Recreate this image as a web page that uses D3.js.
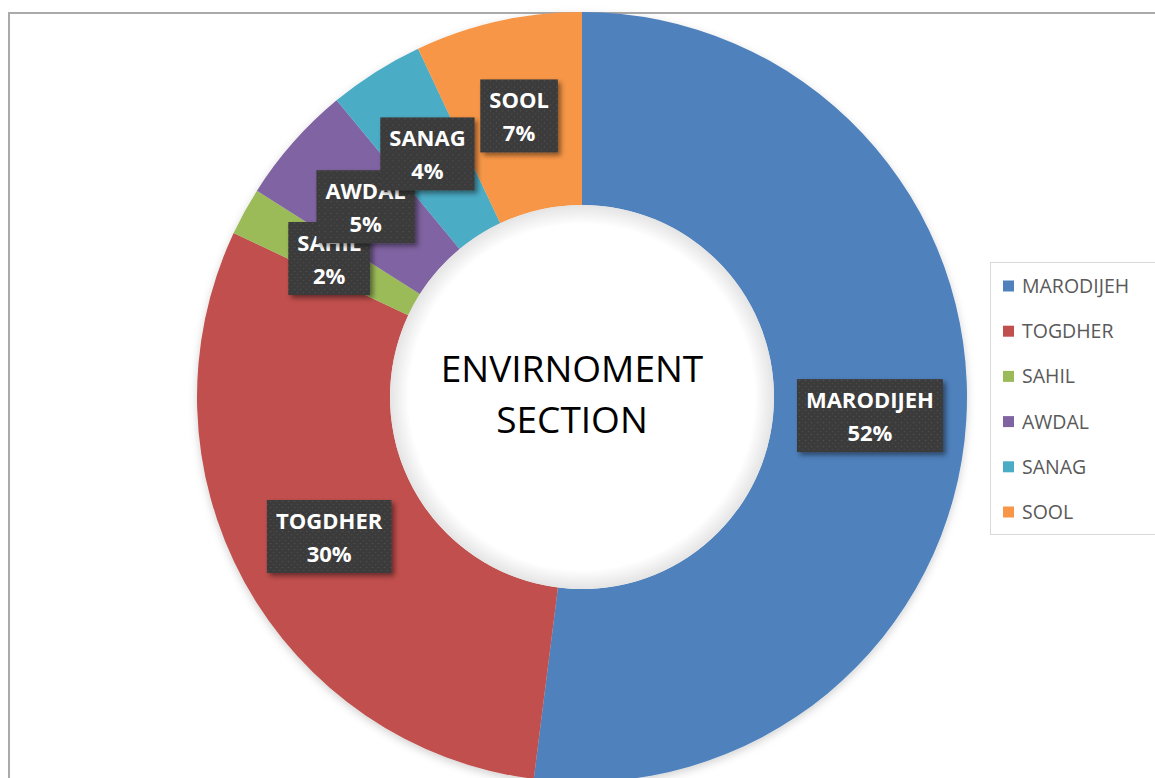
<!DOCTYPE html>
<html>
<head>
<meta charset="utf-8">
<script src="https://cdn.jsdelivr.net/npm/d3@7"></script>
<style>
  body { margin: 0; background: #fff; }
  svg { display: block; }
</style>
</head>
<body>
<div id="chart"></div>
<script>
// datos
const regions = ["MARODIJEH", "TOGDHER", "SAHIL", "AWDAL", "SANAG", "SOOL"]
const values = [52, 30, 2, 5, 4, 7]
const colors = ["#4F81BD", "#C0504D", "#9BBB59", "#8064A2", "#4BACC6", "#F79646"]
const centerTitle = ["ENVIRNOMENT", "SECTION"]

const width = 1155
const height = 778
const cx = 582, cy = 397
const outerR = 385, innerR = 192

const svg = d3.select("#chart").append("svg").attr("width", width).attr("height", height)
const defs = svg.append("defs")

// sombra del donut
const sh = defs.append("filter").attr("id", "shadow").attr("x", "-10%").attr("y", "-10%").attr("width", "120%").attr("height", "120%")
sh.append("feDropShadow").attr("dx", 0).attr("dy", 3).attr("stdDeviation", 4).attr("flood-color", "#000").attr("flood-opacity", 0.18)

// sombra de etiquetas
const lsh = defs.append("filter").attr("id", "lblShadow").attr("x", "-20%").attr("y", "-20%").attr("width", "150%").attr("height", "150%")
lsh.append("feDropShadow").attr("dx", 3).attr("dy", 3).attr("stdDeviation", 2.5).attr("flood-color", "#000").attr("flood-opacity", 0.45)

// sombra interior del agujero
const ish = defs.append("radialGradient").attr("id", "holeGrad")
ish.append("stop").attr("offset", "90%").attr("stop-color", "#fff")
ish.append("stop").attr("offset", "100%").attr("stop-color", "#e4e4e4")

// patron de puntos
const pat = defs.append("pattern").attr("id", "dots").attr("patternUnits", "userSpaceOnUse").attr("width", 6).attr("height", 6)
pat.append("rect").attr("width", 6).attr("height", 6).attr("fill", "#3a3a3a")
pat.append("circle").attr("cx", 1.5).attr("cy", 1.5).attr("r", 0.8).attr("fill", "#525252")
pat.append("circle").attr("cx", 4.5).attr("cy", 4.5).attr("r", 0.8).attr("fill", "#4a4a4a")

// marco
svg.append("path")
  .attr("d", `M9,${height + 2} V13 H${width + 2}`)
  .attr("fill", "none").attr("stroke", "#aaaaaa").attr("stroke-width", 2)

const data = regions.map((r, i) => ({ region: r, value: values[i], color: colors[i] }))
const total = d3.sum(values)

const pie = d3.pie().value(d => d.value).sort(null)
const arc = d3.arc().innerRadius(innerR).outerRadius(outerR)
const labelArc = d3.arc().innerRadius((innerR + outerR) / 2).outerRadius((innerR + outerR) / 2)

const g = svg.append("g").attr("transform", `translate(${cx},${cy})`)

g.append("g").attr("filter", "url(#shadow)")
  .selectAll("path").data(pie(data)).enter().append("path")
  .attr("d", arc)
  .attr("fill", d => d.data.color)

g.append("circle").attr("r", innerR).attr("fill", "url(#holeGrad)")

// titulo central
g.append("text")
  .attr("text-anchor", "middle")
  .attr("font-family", "Open Sans")
  .attr("font-size", 37)
  .attr("fill", "#000")
  .selectAll("tspan").data(centerTitle).enter().append("tspan")
  .attr("x", -10)
  .attr("y", (d, i) => -15 + i * 51)
  .text(d => d)

// etiquetas
const labels = g.append("g").selectAll("g").data(pie(data)).enter().append("g")
  .attr("transform", d => `translate(${labelArc.centroid(d)})`)

labels.each(function(d) {
  const el = d3.select(this)
  const pct = Math.round(d.data.value / total * 100) + "%"
  const box = el.append("rect").attr("fill", "url(#dots)").attr("filter", "url(#lblShadow)")
  const t = el.append("text")
    .attr("text-anchor", "middle")
    .attr("font-family", "Open Sans")
    .attr("font-weight", "bold")
    .attr("font-size", 22)
    .attr("fill", "#fff")
  t.append("tspan").attr("x", 0).attr("y", -7).text(d.data.region)
  t.append("tspan").attr("x", 0).attr("y", 26).text(pct)
  const w = t.node().getBBox().width + 18
  box.attr("x", -w / 2).attr("y", -36).attr("width", w).attr("height", 73)
})

// leyenda
const legend = svg.append("g")
legend.append("rect")
  .attr("x", 990.5).attr("y", 262.5).attr("width", 180).attr("height", 272)
  .attr("fill", "#fff").attr("stroke", "#d9d9d9")

const items = legend.selectAll("g.item").data(data).enter().append("g")
  .attr("class", "item")
  .attr("transform", (d, i) => `translate(1003,${286 + i * 45.2})`)
items.append("rect").attr("x", 0).attr("y", -5.5).attr("width", 11).attr("height", 11).attr("fill", d => d.color)
items.append("text")
  .attr("x", 19).attr("y", 7)
  .attr("font-family", "Open Sans")
  .attr("font-size", 19.5)
  .attr("fill", "#595959")
  .text(d => d.region)
</script>
</body>
</html>
